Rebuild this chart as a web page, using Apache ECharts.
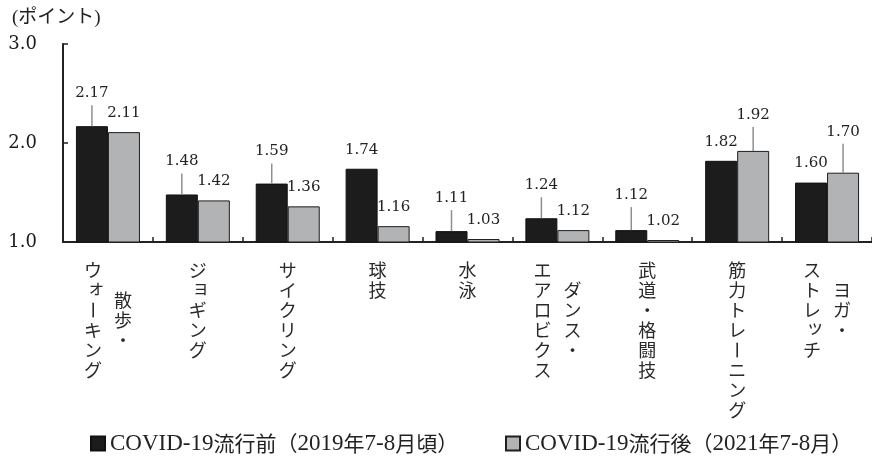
<!DOCTYPE html>
<html>
<head>
<meta charset="utf-8">
<script src="https://cdn.jsdelivr.net/npm/echarts@6/dist/echarts.min.js"></script>
<style>
  html, body { margin: 0; padding: 0; background: #ffffff; }
  #chart { width: 872px; height: 457px; }
</style>
</head>
<body>
<div id="chart"></div>
<script>
// Category labels, written as vertical columns in reading order (right column first)
const categoryColumns = [
  ['散歩・', 'ウォーキング'],
  ['ジョギング'],
  ['サイクリング'],
  ['球技'],
  ['水泳'],
  ['ダンス・', 'エアロビクス'],
  ['武道・格闘技'],
  ['筋力トレーニング'],
  ['ヨガ・', 'ストレッチ']
];
const categories = categoryColumns.map(c => c.join(''));

// Scores (points) before and after the COVID-19 outbreak
const beforeValues = [2.17, 1.48, 1.59, 1.74, 1.11, 1.24, 1.12, 1.82, 1.60];
const afterValues  = [2.11, 1.42, 1.36, 1.16, 1.03, 1.12, 1.02, 1.92, 1.70];

const seriesNames = [
  'COVID-19流行前（2019年7-8月頃）',
  'COVID-19流行後（2021年7-8月）'
];
const yMin = 1, yMax = 3, yStep = 1;
const yUnit = '(ポイント)';

// Layout: length (px) of the guide line under each value label, 0 = none
const leaderBefore = [21, 21, 20, 0, 21, 21, 23, 0, 0];
const leaderAfter  = [0, 0, 0, 0, 0, 0, 0, 24, 29];

const BAR_W = 32;
const SERIF = '"DejaVu Serif", serif';
const CJK = '"Noto Sans CJK JP", sans-serif';
const SMALL_KANA = 'ァィゥェォッャュョヮ';

function valueLabelSeries(values, leaders, side) {
  return {
    type: 'custom',
    silent: true,
    z: 5,
    clip: false,
    data: values.map((v, i) => [i, v]),
    renderItem(params, api) {
      const i = api.value(0);
      const v = api.value(1);
      const p = api.coord([i, v]);
      const x = p[0] + side * BAR_W / 2;
      const L = leaders[i];
      const children = [];
      if (L > 0) {
        children.push({
          type: 'line',
          shape: { x1: x, y1: p[1], x2: x, y2: p[1] - L },
          style: { stroke: '#8e8e8e', lineWidth: 1.5 }
        });
      }
      children.push({
        type: 'text',
        x: x,
        y: p[1] - (L > 0 ? L + 12 : 19),
        style: {
          text: v.toFixed(2),
          align: 'center',
          verticalAlign: 'middle',
          fontFamily: SERIF,
          fontSize: 15,
          lineHeight: 16,
          fill: '#222'
        }
      });
      return { type: 'group', children };
    }
  };
}

// Vertical category labels under the axis, one upright character per cell
const categoryLabelSeries = {
  type: 'custom',
  silent: true,
  clip: false,
  data: categories.map((c, i) => [i, yMin]),
  renderItem(params, api) {
    const i = api.value(0);
    const p = api.coord([i, yMin]);
    const cols = categoryColumns[i];
    const n = cols.length;
    const maxLen = Math.max(...cols.map(c => c.length));
    const pitch = 20, colGap = 30, top = p[1] + 19;
    const children = [];
    cols.forEach((col, k) => {
      const cx = p[0] + ((n - 1) / 2 - k) * colGap;
      const startY = top + (maxLen - col.length) * pitch / 2;
      Array.from(col).forEach((ch, j) => {
        let x = cx, y = startY + 9 + pitch * j;
        let rotation = 0;
        if (ch === 'ー') rotation = -Math.PI / 2;
        if (SMALL_KANA.indexOf(ch) >= 0) { x += 3; y -= 3; }
        children.push({
          type: 'text',
          x, y, rotation,
          style: {
            text: ch,
            align: 'center',
            verticalAlign: 'middle',
            fontFamily: CJK,
            fontSize: 18,
            lineHeight: 18,
            fill: '#2a2a2a'
          }
        });
      });
    });
    return { type: 'group', children };
  }
};

function legendFormatter(name) {
  return name.replace(/([^\x00-\x7F]+)/g, '{j|$1}');
}
const legendText = {
  fontFamily: '"Liberation Serif", serif',
  fontSize: 23,
  color: '#222',
  rich: { j: { fontFamily: CJK, fontSize: 21, color: '#222' } }
};

const chart = echarts.init(document.getElementById('chart'), null, { renderer: 'canvas' });
chart.setOption({
  animation: false,
  backgroundColor: '#ffffff',
  title: {
    text: yUnit,
    left: 12,
    top: 9,
    padding: 0,
    textStyle: {
      fontFamily: '"Liberation Serif", "Noto Sans CJK JP", serif',
      fontSize: 19,
      fontWeight: 'normal',
      color: '#222'
    }
  },
  legend: [
    {
      data: [seriesNames[0]],
      left: 90, top: 432, padding: 0,
      itemWidth: 14, itemHeight: 14,
      icon: 'rect',
      formatter: legendFormatter,
      textStyle: legendText
    },
    {
      data: [seriesNames[1]],
      left: 505, top: 432, padding: 0,
      itemWidth: 14, itemHeight: 14,
      icon: 'rect',
      formatter: legendFormatter,
      textStyle: legendText
    }
  ],
  grid: { left: 63, top: 44, height: 198, width: 814, containLabel: false },
  xAxis: {
    type: 'category',
    data: categories,
    boundaryGap: true,
    axisLine: { lineStyle: { color: '#222', width: 2 } },
    axisTick: { show: true, inside: true, length: 5, interval: 0, lineStyle: { color: '#222', width: 1.5 } },
    axisLabel: { show: false },
    splitLine: { show: false }
  },
  yAxis: {
    type: 'value',
    min: yMin, max: yMax, interval: yStep,
    axisLine: { show: true, lineStyle: { color: '#222', width: 2 } },
    axisTick: { show: true, inside: true, length: 5, lineStyle: { color: '#222', width: 1.5 } },
    axisLabel: {
      margin: 26,
      formatter: v => v.toFixed(1),
      fontFamily: SERIF,
      fontSize: 18,
      color: '#1a1a1a'
    },
    splitLine: { show: false }
  },
  series: [
    {
      name: seriesNames[0],
      type: 'bar',
      data: beforeValues,
      barWidth: BAR_W,
      barGap: '0%',
      itemStyle: { color: '#1c1c1c', borderColor: '#111', borderWidth: 1 }
    },
    {
      name: seriesNames[1],
      type: 'bar',
      data: afterValues,
      barWidth: BAR_W,
      barGap: '0%',
      itemStyle: { color: '#b2b3b5', borderColor: '#1e1e1e', borderWidth: 1 }
    },
    valueLabelSeries(beforeValues, leaderBefore, -1),
    valueLabelSeries(afterValues, leaderAfter, 1),
    categoryLabelSeries
  ]
});
</script>
</body>
</html>
